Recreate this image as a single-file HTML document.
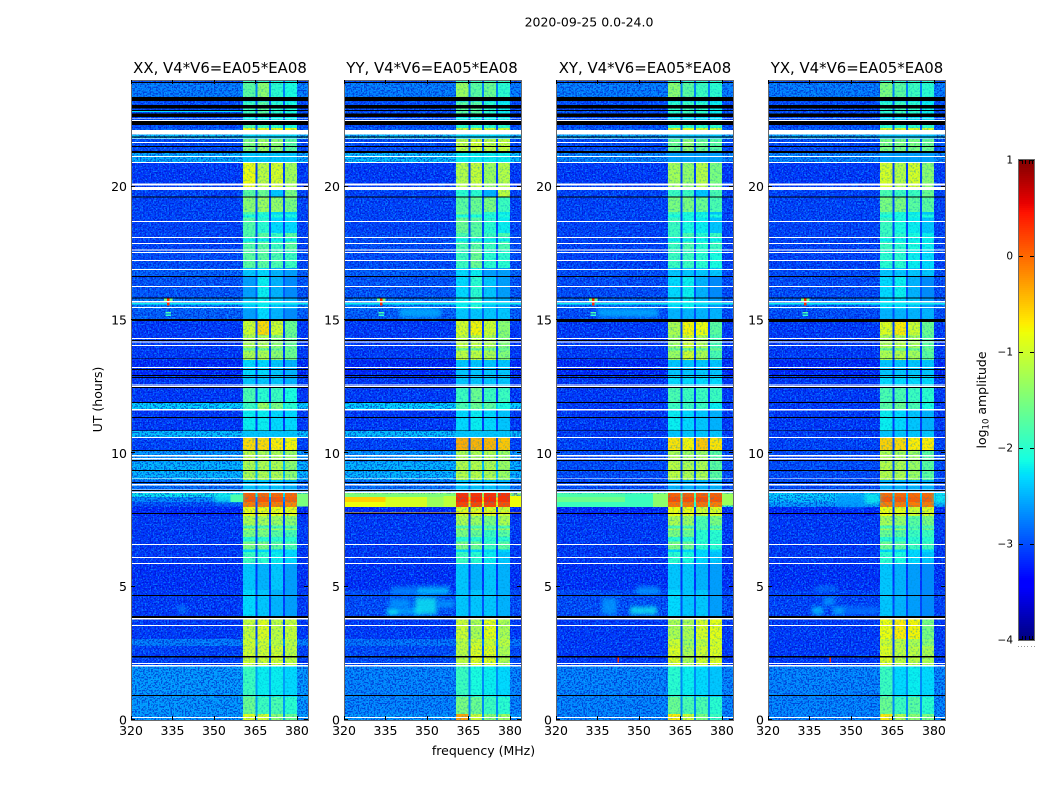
<!DOCTYPE html>
<html lang="en">
<head>
<meta charset="utf-8">
<title>2020-09-25 0.0-24.0</title>
<style>
html,body{margin:0;padding:0;background:#fff}
body{width:1050px;height:800px;overflow:hidden}
svg{display:block}
text{font-family:"DejaVu Sans","Liberation Sans",sans-serif;fill:#000}
</style>
</head>
<body>
<svg id="figure" width="1050" height="800" viewBox="0 0 1050 800">
  <defs>
    <filter id="speckle-light" filterUnits="objectBoundingBox" x="0" y="0" width="1" height="1" color-interpolation-filters="sRGB">
      <feTurbulence type="fractalNoise" baseFrequency="0.62" numOctaves="1" seed="4"/>
      <feColorMatrix type="matrix" values="0 0 0 0 0.05  0 0 0 0 0.68  0 0 0 0 1  12 0 0 0 -6.2"/>
    </filter>
    <filter id="speckle-dark" filterUnits="objectBoundingBox" x="0" y="0" width="1" height="1" color-interpolation-filters="sRGB">
      <feTurbulence type="fractalNoise" baseFrequency="0.62" numOctaves="1" seed="11"/>
      <feColorMatrix type="matrix" values="0 0 0 0 0  0 0 0 0 0  0 0 0 0 0.72  12 0 0 0 -6.0"/>
    </filter>
    <filter id="speckle-soft" filterUnits="objectBoundingBox" x="0" y="0" width="1" height="1" color-interpolation-filters="sRGB">
      <feTurbulence type="fractalNoise" baseFrequency="0.55" numOctaves="1" seed="7"/>
      <feColorMatrix type="matrix" values="0 0 0 0 0  0 0 0 0 0.55  0 0 0 0 0.8  1.6 0 0 0 -0.75"/>
    </filter>
    <filter id="patch-blur" x="-40%" y="-60%" width="180%" height="220%">
      <feGaussianBlur stdDeviation="2.2"/>
    </filter>
  </defs>
  <text x="589" y="26.5" text-anchor="middle" font-size="12.5">2020-09-25 0.0-24.0</text>
  <text x="483.5" y="755" text-anchor="middle" font-size="12.5">frequency (MHz)</text>
  <text transform="translate(102 399.5) rotate(-90)" text-anchor="middle" font-size="12.5">UT (hours)</text>
  <text transform="translate(986 400) rotate(-90)" text-anchor="middle" font-size="12.5">log<tspan dy="2.5" font-size="8.5">10</tspan><tspan dy="-2.5"> amplitude</tspan></text>
  <g id="panels"></g>
  <g id="colorbar"></g>
</svg>
<script>
// ---- shared axis data ----
const freqTicks = [320, 335, 350, 365, 380];
const utTicks = [0, 5, 10, 15, 20];
const colorbarTicks = [-4, -3, -2, -1, 0, 1];
const colorbarTickLabels = ['\u22124', '\u22123', '\u22122', '\u22121', '0', '1'];
const subbandStart = [360.5, 365.8, 370.6, 375.7];
const subbandEnd = [365.0, 369.9, 375.0, 380.0];

// UT edges of the 48 time bands (hours)
const bandEdges = [0,0.22,0.86,2.0,2.77,3.04,3.83,4.88,5.85,6.3,7.13,7.65,7.99,8.18,8.36,8.51,9.0,9.68,10.09,10.58,10.83,11.61,11.92,12.45,12.93,13.5,14.43,14.96,15.41,15.82,16.65,16.95,17.63,18.26,19.05,19.6,19.88,20.89,21.3,21.8,21.96,22.13,22.2,22.31,22.62,23.2,23.37,23.9,24];

// thin dips seen in every sub-band block: UT start, UT end, log amplitude
const blockStripes = [[6.3,6.4,-2.3],[6.7,6.86,-2.0],[7.18,7.3,-1.8],[13.85,13.95,-1.6],[17.95,18.05,-2.2],[18.85,18.95,-2.1]];

// flagged (white) integrations, UT start/end
const flaggedRows = [[0.08,0.11],[2.0,2.06],[2.1,2.14],[3.53,3.56],[3.77,3.83],[5.85,5.89],[6.08,6.11],[6.56,6.6],[8.52,8.56],[8.64,8.67],[8.79,8.85],[9.03,9.06],[9.77,9.83],[9.89,9.93],[10.58,10.61],[11.61,11.66],[12.49,12.53],[12.55,12.58],[13.2,13.24],[14.03,14.06],[14.15,14.19],[14.28,14.33],[15.45,15.49],[15.66,15.71],[16.24,16.28],[16.88,16.91],[17.21,17.25],[17.51,17.55],[17.61,17.65],[17.85,17.89],[18.08,18.11],[18.68,18.71],[19.88,19.98],[20.04,20.12],[20.89,20.93],[21.11,21.15],[21.64,21.68],[21.78,21.81],[21.96,22.13],[22.47,22.5],[22.53,22.56]];

// zero-signal (black) integrations, UT start/end
const blankRows = [[0.9,0.94],[2.34,2.4],[3.83,3.9],[4.65,4.69],[7.73,7.76],[8.59,8.63],[8.89,8.93],[9.34,9.38],[9.71,9.75],[10.08,10.13],[10.83,10.86],[11.33,11.36],[11.89,11.93],[12.45,12.49],[12.83,12.86],[12.9,12.94],[13.13,13.16],[13.53,13.56],[14.21,14.25],[14.96,15.03],[15.81,15.85],[16.61,16.65],[19.59,19.63],[21.27,21.34],[21.49,21.53],[21.84,21.89],[22.31,22.46],[22.62,22.74],[22.84,22.88],[22.94,23.06],[23.22,23.37],[23.88,23.93]];

// ---- XX ----
const floorXX = [-2.6,-2.6,-2.6,-3.05,-2.75,-3.1,-3.1,-3.15,-3.1,-3.1,-3.1,-3.2,-3.0,-2.7,-2.2,-2.8,-2.45,-2.6,-3.05,-2.4,-3.1,-2.3,-3.1,-3.1,-3.2,-3.1,-3.1,-2.9,-2.75,-2.95,-2.9,-3.0,-3.05,-3.05,-3.05,-3.05,-3.1,-2.5,-3.0,-2.4,-2.4,-2.9,-3.0,-3.0,-3.0,-3.0,-2.75,-3.0];
const blocksXX = [[-0.9,-1.0,-1.4,-1.6],[-1.6,-1.9,-1.8,-2.0],[-1.9,-2.2,-2.2,-2.3],[-1.0,-1.0,-1.0,-1.1],[-1.0,-1.0,-1.1,-1.1],[-1.05,-0.9,-1.1,-1.05],[-2.3,-2.4,-2.5,-2.6],[-2.4,-2.5,-2.4,-2.6],[-1.9,-2.0,-2.2,-2.3],[-1.5,-1.5,-1.7,-1.8],[-1.2,-1.25,-1.3,-1.4],[-0.8,-0.8,-0.8,-0.85],[-0.1,-0.1,-0.1,-0.15],[0.1,0.1,0.1,0.05],[0.05,0.0,0.0,0.0],[-2.4,-2.4,-2.4,-2.5],[-1.2,-1.2,-1.2,-1.4],[-1.1,-1.2,-1.2,-1.3],[-0.6,-0.6,-0.7,-0.75],[-2.4,-2.4,-2.4,-2.4],[-2.2,-2.2,-2.3,-2.3],[-1.9,-1.3,-1.5,-2.0],[-1.8,-2.0,-1.9,-2.1],[-2.4,-2.4,-2.4,-2.5],[-2.3,-2.3,-2.4,-2.5],[-1.2,-1.2,-1.4,-1.6],[-1.0,-0.6,-1.0,-1.6],[-2.6,-2.3,-2.5,-2.7],[-2.4,-2.2,-2.4,-2.5],[-2.6,-2.2,-2.5,-2.7],[-2.4,-2.3,-2.5,-2.6],[-1.7,-1.7,-1.8,-1.9],[-1.75,-1.7,-1.9,-1.7],[-1.75,-2.0,-2.3,-2.3],[-1.4,-1.3,-1.35,-1.5],[-1.7,-1.6,-2.4,-1.5],[-0.8,-1.1,-0.95,-1.25],[-2.4,-2.4,-2.4,-2.4],[-1.5,-1.3,-1.4,-1.7],[-2.3,-2.3,-2.3,-2.3],[-2.3,-2.3,-2.3,-2.3],[-0.8,-0.8,-0.8,-0.8],[-1.8,-1.9,-2.0,-2.1],[-2.2,-2.2,-2.2,-2.2],[-1.9,-1.7,-2.0,-2.1],[-2.4,-2.4,-2.4,-2.4],[-1.7,-1.4,-2.0,-2.1],[-1.9,-2.0,-2.1,-2.2]];
const patchesXX = [[350,360.5,8.18,8.5,-2.2],[356,360.5,8.18,8.45,-1.8],[380,384,8.0,8.5,-1.5],[337,340,4.05,4.27,-2.7],[320,384,15.58,15.63,-2.2],[332,335,15.7,15.82,-1.6],[333.1,333.9,15.55,15.84,0.3],[332.5,334.5,15.25,15.3,-1.8],[332.5,334.5,15.15,15.2,-2.0],[320,360,22.8,22.84,-2.3]];

// ---- YY ----
const floorYY = [-2.6,-2.7,-2.7,-3.0,-2.8,-3.1,-3.0,-3.15,-3.1,-3.1,-3.1,-3.2,-0.9,-0.55,-1.3,-2.8,-2.45,-2.6,-3.05,-2.4,-3.1,-2.3,-3.1,-3.1,-3.2,-3.1,-3.1,-2.9,-2.75,-2.95,-2.9,-3.0,-3.0,-3.05,-3.05,-3.05,-3.1,-2.4,-3.0,-2.4,-2.4,-2.9,-3.0,-3.0,-3.0,-3.0,-2.75,-3.0];
const blocksYY = [[-0.3,-1.0,-1.4,-1.3],[-1.5,-1.6,-1.9,-2.0],[-1.9,-2.1,-2.2,-2.3],[-1.1,-0.9,-0.9,-1.2],[-1.1,-1.0,-1.0,-1.1],[-1.0,-1.2,-0.85,-1.2],[-2.4,-2.4,-2.4,-2.5],[-2.4,-2.5,-2.4,-2.5],[-1.9,-2.0,-2.2,-2.4],[-1.5,-1.6,-1.9,-1.7],[-1.2,-1.3,-1.5,-1.2],[-0.9,-0.9,-0.9,-1.0],[0.2,0.2,0.2,0.15],[0.35,0.35,0.35,0.3],[0.3,0.3,0.3,0.3],[-2.4,-2.4,-2.4,-2.5],[-1.15,-1.15,-1.2,-1.3],[-1.2,-1.2,-1.2,-1.3],[-0.35,-0.4,-0.4,-0.5],[-2.4,-2.4,-2.4,-2.4],[-2.3,-2.2,-2.3,-2.4],[-1.8,-1.6,-1.7,-2.1],[-1.9,-1.6,-1.9,-1.9],[-2.4,-2.4,-2.4,-2.4],[-2.4,-2.4,-2.4,-2.4],[-1.1,-1.1,-1.2,-1.45],[-0.95,-0.75,-1.0,-1.4],[-2.4,-2.4,-2.4,-2.4],[-2.2,-2.0,-2.4,-2.5],[-2.3,-2.0,-2.4,-2.6],[-2.3,-2.2,-2.6,-2.6],[-1.9,-1.6,-2.0,-2.0],[-1.8,-1.7,-1.9,-1.8],[-1.6,-1.7,-2.0,-2.2],[-1.7,-1.6,-1.5,-1.9],[-2.0,-2.0,-2.5,-1.1],[-1.15,-1.05,-1.3,-1.15],[-2.2,-2.2,-2.2,-2.2],[-1.1,-1.0,-1.1,-1.05],[-2.3,-2.3,-2.3,-2.3],[-2.3,-2.3,-2.3,-2.3],[-1.0,-1.0,-1.0,-1.0],[-2.0,-2.0,-2.0,-2.0],[-2.2,-2.2,-2.2,-2.2],[-1.7,-1.7,-2.0,-2.2],[-2.4,-2.4,-2.4,-2.4],[-1.3,-1.7,-1.6,-2.0],[-1.9,-1.9,-1.9,-1.9]];
const patchesYY = [[320,335,7.99,8.18,-0.8],[320,335,8.18,8.36,-0.55],[320,360.5,8.36,8.5,-1.5],[335,360.5,7.99,8.36,-0.95],[350,356,7.99,8.36,-1.3],[356,360.5,7.99,8.4,-1.1],[380,384,7.99,8.4,-0.8],[320,384,7.73,7.78,-0.4],[335.5,347.5,3.95,4.2,-2.5],[336,339.5,3.95,4.15,-2.2],[346,358,4.7,5.0,-2.4],[337,346,4.7,5.0,-2.7],[345.7,353.6,3.95,4.6,-2.2],[353.6,360,4.2,4.5,-2.6],[336.5,344,4.2,4.55,-2.6],[320,384,15.58,15.63,-2.2],[340,355,15.1,15.45,-2.5],[332,335,15.7,15.82,-1.6],[333.1,333.9,15.55,15.84,0.3],[332.5,334.5,15.25,15.3,-1.8],[332.5,334.5,15.15,15.2,-2.0]];

// ---- XY ----
const floorXY = [-2.7,-2.7,-2.7,-3.1,-3.1,-3.1,-3.0,-3.15,-3.1,-3.1,-3.1,-3.2,-2.0,-1.6,-1.8,-3.0,-3.0,-3.0,-3.05,-3.1,-3.1,-3.1,-3.1,-3.1,-3.2,-3.1,-3.1,-3.0,-2.85,-3.0,-3.0,-3.05,-3.05,-3.05,-3.05,-3.05,-3.1,-2.7,-3.0,-2.5,-2.5,-2.9,-3.0,-3.0,-3.0,-3.0,-2.75,-3.0];
const blocksXY = [[-0.7,-1.0,-1.5,-1.9],[-1.6,-1.8,-1.8,-2.0],[-2.0,-2.2,-2.3,-2.4],[-0.9,-1.2,-1.0,-0.9],[-1.0,-1.3,-1.1,-0.95],[-1.2,-1.2,-0.95,-0.85],[-2.3,-2.4,-2.4,-2.6],[-2.4,-2.4,-2.5,-2.6],[-2.0,-2.1,-2.3,-2.4],[-1.5,-1.6,-2.0,-2.0],[-1.2,-1.3,-1.8,-1.5],[-0.8,-0.8,-1.0,-0.9],[-0.05,-0.05,-0.05,-0.1],[0.15,0.15,0.15,0.1],[0.05,0.05,0.05,0.05],[-2.5,-2.5,-2.5,-2.5],[-1.1,-1.2,-1.2,-1.7],[-1.2,-1.3,-1.3,-1.7],[-0.65,-0.75,-0.5,-0.65],[-2.4,-2.4,-2.4,-2.4],[-2.2,-2.3,-2.4,-2.5],[-1.9,-1.9,-1.9,-2.2],[-1.8,-1.9,-1.9,-1.9],[-2.3,-2.3,-2.3,-2.3],[-2.4,-2.4,-2.4,-2.4],[-1.3,-1.0,-1.2,-1.8],[-1.2,-0.75,-0.8,-1.7],[-2.5,-2.5,-2.5,-2.5],[-2.3,-2.2,-2.4,-2.6],[-2.3,-2.2,-2.5,-2.7],[-2.4,-2.4,-2.4,-2.4],[-1.9,-1.9,-2.0,-2.1],[-1.9,-1.8,-2.0,-1.9],[-1.9,-2.1,-2.2,-2.4],[-1.5,-1.5,-1.6,-1.8],[-1.9,-1.9,-2.4,-1.8],[-1.25,-1.35,-1.15,-1.5],[-2.6,-2.6,-2.6,-2.6],[-1.6,-1.4,-1.6,-1.7],[-2.4,-2.4,-2.4,-2.4],[-2.4,-2.4,-2.4,-2.4],[-0.9,-0.9,-1.0,-1.0],[-2.0,-2.0,-2.0,-2.0],[-2.3,-2.3,-2.3,-2.3],[-2.0,-1.9,-2.0,-2.2],[-2.4,-2.4,-2.4,-2.4],[-1.4,-1.7,-1.9,-2.0],[-2.0,-2.0,-2.0,-2.0]];
const patchesXY = [[320,345,7.99,8.18,-1.9],[320,345,8.18,8.36,-1.6],[320,345,8.36,8.5,-1.8],[345,355,7.99,8.5,-1.9],[355,360.5,7.99,8.5,-1.4],[380,384,8.05,8.5,-1.3],[336.6,342,3.95,4.57,-2.6],[346.7,356.5,3.95,4.25,-2.2],[349,357.5,4.7,5.0,-2.6],[342.3,342.8,2.15,2.4,0.3],[320,384,15.58,15.63,-2.2],[335,357,15.1,15.45,-2.5],[332,335,15.7,15.82,-1.6],[333.1,333.9,15.55,15.84,0.3],[332.5,334.5,15.25,15.3,-1.8],[332.5,334.5,15.15,15.2,-2.0],[320,384,14.93,15.03,-9]];

// ---- YX ----
const floorYX = [-2.7,-2.7,-2.7,-3.1,-3.1,-3.1,-3.05,-3.15,-3.1,-3.1,-3.1,-3.2,-2.6,-2.4,-2.3,-3.0,-3.0,-3.0,-3.05,-3.1,-3.1,-3.1,-3.1,-3.1,-3.2,-3.1,-3.1,-3.0,-2.85,-3.0,-3.0,-3.05,-3.05,-3.05,-3.05,-3.05,-3.1,-2.7,-3.0,-2.5,-2.5,-2.9,-3.0,-3.0,-3.0,-3.0,-2.75,-3.0];
const blocksYX = [[-0.7,-1.2,-1.4,-1.5],[-1.6,-1.9,-1.7,-2.0],[-1.9,-2.3,-2.2,-2.3],[-0.9,-1.1,-1.1,-1.2],[-1.0,-1.1,-1.2,-1.4],[-0.8,-0.7,-0.75,-1.5],[-2.4,-2.5,-2.6,-2.7],[-2.4,-2.5,-2.6,-2.7],[-2.0,-2.1,-2.3,-2.4],[-1.6,-1.7,-1.9,-1.9],[-1.25,-1.35,-1.7,-1.5],[-0.8,-0.85,-1.0,-0.9],[-0.1,-0.1,-0.1,-0.1],[0.1,0.1,0.05,0.05],[0.0,0.0,0.0,0.0],[-2.5,-2.5,-2.5,-2.5],[-1.15,-1.2,-1.3,-1.7],[-1.2,-1.25,-1.3,-1.7],[-0.55,-0.6,-0.7,-0.7],[-2.4,-2.4,-2.4,-2.4],[-2.2,-2.3,-2.4,-2.5],[-1.7,-1.6,-1.8,-2.1],[-1.8,-1.8,-1.9,-2.0],[-2.3,-2.3,-2.3,-2.3],[-2.4,-2.4,-2.4,-2.4],[-1.2,-1.15,-1.25,-1.7],[-0.9,-0.7,-1.0,-1.6],[-2.5,-2.5,-2.5,-2.5],[-2.3,-2.3,-2.4,-2.6],[-2.3,-2.2,-2.5,-2.7],[-2.4,-2.4,-2.4,-2.4],[-2.0,-2.0,-2.2,-2.3],[-1.9,-2.0,-2.1,-2.2],[-1.9,-2.1,-2.2,-2.4],[-1.5,-1.5,-1.7,-1.7],[-1.8,-1.9,-1.9,-1.6],[-0.95,-1.15,-0.95,-1.4],[-2.6,-2.6,-2.6,-2.6],[-1.5,-1.5,-1.5,-1.6],[-2.4,-2.4,-2.4,-2.4],[-2.4,-2.4,-2.4,-2.4],[-0.9,-0.9,-0.9,-0.9],[-2.0,-2.0,-2.0,-2.0],[-2.3,-2.3,-2.3,-2.3],[-2.0,-1.9,-2.0,-2.2],[-2.4,-2.4,-2.4,-2.4],[-1.5,-1.7,-1.9,-2.0],[-2.0,-2.0,-2.0,-2.0]];
const patchesYX = [[345,355,7.99,8.5,-2.6],[355,360.5,8.1,8.5,-2.2],[380,384,8.1,8.5,-2.2],[335.9,340,3.95,4.25,-2.4],[343.5,348,3.95,4.25,-2.5],[340,344,4.3,4.6,-2.6],[337,345,4.85,5.0,-2.7],[348,360,3.95,4.25,-2.8],[342.3,342.8,2.15,2.4,0.3],[320,384,15.58,15.63,-2.2],[332,335,15.7,15.82,-1.6],[333.1,333.9,15.55,15.84,0.3],[332.5,334.5,15.25,15.3,-1.8],[332.5,334.5,15.15,15.2,-2.0],[320,384,14.93,15.03,-9]];

const panelTitles = ['XX, V4*V6=EA05*EA08', 'YY, V4*V6=EA05*EA08', 'XY, V4*V6=EA05*EA08', 'YX, V4*V6=EA05*EA08'];
const panelKeys = ['xx', 'yy', 'xy', 'yx'];
const panelFloors = [floorXX, floorYY, floorXY, floorYX];
const panelBlocks = [blocksXX, blocksYY, blocksXY, blocksYX];
const panelPatches = [patchesXX, patchesYY, patchesXY, patchesYX];

// ---- layout and scales ----
const panelLefts = [131, 344, 556, 768];
const panelWidth = 177;
const titleNudges = [0.5, -0.5, 0.5, 0.5];
const plotTop = 80;
const plotBottom = 720;
const freqMin = 320;
const freqMax = 384;
const figure = document.getElementById('figure');
const NS = figure.namespaceURI;

function xScale(panelIndex, f) {
  return panelLefts[panelIndex] + (f - freqMin) * panelWidth / (freqMax - freqMin);
}
function yScale(ut) {
  return plotBottom - ut * (plotBottom - plotTop) / 24;
}
function interp(stops, t) {
  for (let i = 1; i < stops.length; i++) {
    if (t <= stops[i][0]) {
      const a = stops[i - 1];
      const b = stops[i];
      return a[1] + (b[1] - a[1]) * (t - a[0]) / (b[0] - a[0]);
    }
  }
  return stops[stops.length - 1][1];
}
const jetR = [[0,0],[0.35,0],[0.66,1],[0.89,1],[1,0.5]];
const jetG = [[0,0],[0.125,0],[0.375,1],[0.64,1],[0.91,0],[1,0]];
const jetB = [[0,0.5],[0.11,1],[0.34,1],[0.65,0],[1,0]];
function levelColor(level) {
  if (level < -4.5) return '#000';
  const t = Math.max(0, Math.min(1, (level + 4) / 5));
  const r = Math.round(255 * interp(jetR, t));
  const g = Math.round(255 * interp(jetG, t));
  const b = Math.round(255 * interp(jetB, t));
  return 'rgb(' + r + ',' + g + ',' + b + ')';
}
function shape(tag, parent, attrs) {
  const el = document.createElementNS(NS, tag);
  for (const k in attrs) el.setAttribute(k, attrs[k]);
  parent.appendChild(el);
  return el;
}
function cell(parent, i, f0, f1, t0, t1, fill) {
  const y0 = yScale(t1);
  return shape('rect', parent, {
    x: xScale(i, f0), y: y0,
    width: xScale(i, f1) - xScale(i, f0),
    height: yScale(t0) - y0,
    fill: fill, 'shape-rendering': 'crispEdges'
  });
}

// ---- draw panels ----
const panelsRoot = document.getElementById('panels');
panelTitles.forEach(function (title, i) {
  const g = shape('g', panelsRoot, {});
  
  
  const floors = panelFloors[i];
  const blocks = panelBlocks[i];

  for (let b = 0; b < floors.length; b++) {
    const band = cell(g, i, freqMin, freqMax, bandEdges[b], bandEdges[b + 1], levelColor(floors[b]));
    
    
  }

  // Decorative receiver-noise texture on the off-block part of the band
  [[freqMin, subbandStart[0]], [subbandEnd[3], freqMax]].forEach(function (range) {
    const light = cell(g, i, range[0], range[1], 0, 24, '#000');
    light.setAttribute('filter', 'url(#speckle-light)');
    light.setAttribute('opacity', '0.5');
    
    
    const dark = cell(g, i, range[0], range[1], 0, 24, '#000');
    dark.setAttribute('filter', 'url(#speckle-dark)');
    dark.setAttribute('opacity', '0.5');
    
    
  });

  for (let b = 0; b < blocks.length; b++) {
    for (let s = 0; s < subbandStart.length; s++) {
      const block = cell(g, i, subbandStart[s], subbandEnd[s], bandEdges[b], bandEdges[b + 1], levelColor(blocks[b][s]));
      
      
    }
  }
  blockStripes.forEach(function (st) {
    for (let s = 0; s < subbandStart.length; s++) {
      const stripe = cell(g, i, subbandStart[s], subbandEnd[s], st[0], st[1], levelColor(st[2]));
      
      
    }
  });

  // Softer decorative texture over the sub-band blocks
  const blockTexture = cell(g, i, subbandStart[0], subbandEnd[3], 0, 24, '#000');
  blockTexture.setAttribute('filter', 'url(#speckle-soft)');
  
  

  panelPatches[i].forEach(function (p) {
    const patch = cell(g, i, p[0], p[1], p[2], p[3], levelColor(p[4]));
    if (p[4] > -4.5 && p[4] <= -2.1 && p[3] - p[2] >= 0.14) {
      patch.removeAttribute('shape-rendering');
      patch.setAttribute('filter', 'url(#patch-blur)');
      patch.setAttribute('opacity', '0.8');
    }
    
    
  });

  flaggedRows.forEach(function (r) {
    const row = cell(g, i, freqMin, freqMax, r[0], r[1], '#fff');
    
    
  });
  blankRows.forEach(function (r) {
    const row = cell(g, i, freqMin, freqMax, r[0], r[1], '#000');
    
    
  });

  const left = panelLefts[i];
  const right = left + panelWidth;

  const frame = shape('rect', g, { x: left + 0.5, y: plotTop + 0.5, width: panelWidth, height: plotBottom - plotTop, fill: 'none', stroke: '#6a6a6a', 'stroke-width': 1, 'shape-rendering': 'crispEdges' });
  
  

  freqTicks.forEach(function (f) {
    const x = Math.round(xScale(i, f)) + 0.5;
    const low = shape('line', g, { x1: x, x2: x, y1: plotBottom, y2: plotBottom - 4, stroke: '#000', 'shape-rendering': 'crispEdges' });
    
    
    const high = shape('line', g, { x1: x, x2: x, y1: plotTop, y2: plotTop + 4, stroke: '#000', 'shape-rendering': 'crispEdges' });
    
    
    const label = shape('text', g, { x: xScale(i, f), y: 735, 'text-anchor': 'middle', 'font-size': 12.5 });
    label.textContent = f;
    
    
  });

  utTicks.forEach(function (u) {
    const y = Math.round(yScale(u)) - 0.5;
    const l = shape('line', g, { x1: left, x2: left + 4, y1: y, y2: y, stroke: '#000', 'shape-rendering': 'crispEdges' });
    
    
    const r = shape('line', g, { x1: right - 4, x2: right, y1: y, y2: y, stroke: '#000', 'shape-rendering': 'crispEdges' });
    
    
    const label = shape('text', g, { x: left - 4, y: yScale(u) + 4.5, 'text-anchor': 'end', 'font-size': 12.5 });
    label.textContent = u;
    
    
  });

  const heading = shape('text', g, { x: left + panelWidth / 2 + titleNudges[i], y: 73, 'text-anchor': 'middle', 'font-size': 14.9 });
  heading.textContent = title;
  
  
});

// ---- colorbar ----
const cbar = document.getElementById('colorbar');
const cbarLeft = 1019;
const cbarRight = 1034;
const cbarTop = 160;
const cbarBottom = 640;
const cbarMin = -4;
const cbarMax = 1;
function cbarScale(level) {
  return cbarBottom - (level - cbarMin) * (cbarBottom - cbarTop) / (cbarMax - cbarMin);
}
const cbarSteps = 240;
for (let s = 0; s < cbarSteps; s++) {
  const lv0 = cbarMin + (cbarMax - cbarMin) * s / cbarSteps;
  const lv1 = cbarMin + (cbarMax - cbarMin) * (s + 1) / cbarSteps;
  const swatch = shape('rect', cbar, { x: cbarLeft, y: cbarScale(lv1), width: cbarRight - cbarLeft, height: cbarScale(lv0) - cbarScale(lv1), fill: levelColor((lv0 + lv1) / 2), 'shape-rendering': 'crispEdges' });
  
  
}
const cbarFrame = shape('rect', cbar, { x: cbarLeft - 0.5, y: cbarTop - 0.5, width: cbarRight - cbarLeft + 1, height: cbarBottom - cbarTop + 1, fill: 'none', stroke: '#6a6a6a', 'shape-rendering': 'crispEdges' });


colorbarTicks.forEach(function (lv, i) {
  const y = Math.min(cbarBottom - 0.5, Math.max(cbarTop + 0.5, Math.round(cbarScale(lv)) + 0.5));
  const tl = shape('line', cbar, { x1: cbarLeft, x2: cbarLeft + 4, y1: y, y2: y, stroke: '#000', 'shape-rendering': 'crispEdges' });
  
  
  const tr = shape('line', cbar, { x1: cbarRight - 4, x2: cbarRight, y1: y, y2: y, stroke: '#000', 'shape-rendering': 'crispEdges' });
  
  
  const label = shape('text', cbar, { x: 1013, y: cbarScale(lv) + 3.5, 'text-anchor': 'end', 'font-size': 10.5 });
  label.textContent = colorbarTickLabels[i];
  
  
});
for (let m = 0; m < 4; m++) {
  const x = Math.round(cbarLeft + 3 + m * 3.4) + 0.5;
  const topMark = shape('line', cbar, { x1: x, x2: x, y1: cbarTop, y2: cbarTop + 4, stroke: '#000', 'shape-rendering': 'crispEdges' });
  
  
  const botMark = shape('line', cbar, { x1: x, x2: x, y1: cbarBottom - 4, y2: cbarBottom, stroke: '#000', 'shape-rendering': 'crispEdges' });
  
  
}
for (let d = 0; d < 6; d++) {
  const dot = shape('rect', cbar, { x: Math.round(1017.5 + d * 3.3), y: 646, width: 1, height: 1, fill: '#999', 'shape-rendering': 'crispEdges' });
  
  
}
</script>
</body>
</html>
